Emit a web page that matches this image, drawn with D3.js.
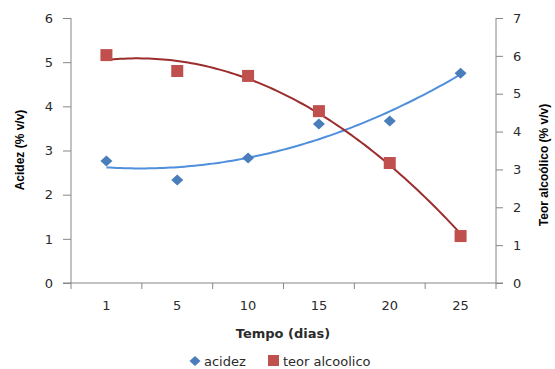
<!DOCTYPE html>
<html><head><meta charset="utf-8">
<script src="https://cdn.jsdelivr.net/npm/d3@7"></script>
<style>body{margin:0;background:#fff}svg{display:block}</style>
</head><body>
<script>
const categories = ["1","5","10","15","20","25"];
const acidez = [2.76, 2.33, 2.83, 3.60, 3.67, 4.75];
const teor = [6.02, 5.60, 5.47, 4.54, 3.17, 1.24];
const leftTicks = [0,1,2,3,4,5,6];
const rightTicks = [0,1,2,3,4,5,6,7];

const W = 555, H = 369;
const svg = d3.select("body").append("svg").attr("width", W).attr("height", H);
const x = d3.scaleBand().domain(categories).range([71, 496]).padding(0);
const yL = d3.scaleLinear().domain([0,6]).range([283,18]);
const yR = d3.scaleLinear().domain([0,7]).range([283,18]);
const axisColor = "#868686", textColor = "#2b2b2b";
const font = "DejaVu Sans";
const fs = 13;

// quadratic least-squares trendline (like Excel polynomial trendline)
function polyFit(ys){
  const n = ys.length, xs = ys.map((_,i)=>i+1);
  const m = d3.mean(xs);
  const t = xs.map(v=>v-m);
  const St2 = d3.sum(t,v=>v*v), St4 = d3.sum(t,v=>v**4);
  const Sy = d3.sum(ys), Sty = d3.sum(t.map((v,i)=>v*ys[i])), St2y = d3.sum(t.map((v,i)=>v*v*ys[i]));
  const b = Sty/St2;
  const c = (St2y - St2*Sy/n)/(St4 - St2*St2/n);
  const a = (Sy - St2*c)/n;
  return xx => a + b*(xx-m) + c*(xx-m)*(xx-m);
}
const xIdx = d3.scaleLinear().domain([1,6]).range([x(categories[0])+x.bandwidth()/2, x(categories[5])+x.bandwidth()/2]);

// axes
const gx = svg.append("g").attr("transform","translate(0,283)")
  .call(d3.axisBottom(x).tickSize(0).tickFormat(""));
gx.select(".domain").attr("stroke",axisColor).attr("d","M63,0H503");
const bounds = categories.map(c=>x(c)).concat([496]);
gx.selectAll("line.b").data(bounds).join("line").attr("class","b")
  .attr("x1",d=>d).attr("x2",d=>d).attr("y1",0).attr("y2",6).attr("stroke",axisColor);
svg.append("g").selectAll("text").data(categories).join("text")
  .attr("x",d=>x(d)+x.bandwidth()/2).attr("y",310).attr("text-anchor","middle")
  .attr("font-family",font).attr("font-size",fs).attr("fill",textColor).text(d=>d);

const gl = svg.append("g").attr("transform","translate(71,0)")
  .call(d3.axisLeft(yL).tickValues(leftTicks).tickSize(8).tickPadding(10).tickFormat(d3.format("d")));
gl.select(".domain").attr("stroke",axisColor).attr("d","M0,18V283");
gl.selectAll(".tick line").attr("stroke",axisColor);
gl.selectAll(".tick text").attr("font-family",font).attr("font-size",fs).attr("fill",textColor);

const gr = svg.append("g").attr("transform","translate(496,0)")
  .call(d3.axisRight(yR).tickValues(rightTicks).tickSize(7).tickPadding(10).tickFormat(d3.format("d")));
gr.select(".domain").attr("stroke",axisColor).attr("d","M0,18V283");
gr.selectAll(".tick line").attr("stroke",axisColor);
gr.selectAll(".tick text").attr("font-family",font).attr("font-size",fs).attr("fill",textColor);

// trendlines
const samples = d3.range(1, 6.001, 0.05);
const fA = polyFit(acidez), fT = polyFit(teor);
svg.append("path").attr("fill","none").attr("stroke","#4F8FDB").attr("stroke-width",2)
  .attr("d", d3.line().x(d=>xIdx(d)).y(d=>yL(fA(d)))(samples));
svg.append("path").attr("fill","none").attr("stroke","#9B2D2D").attr("stroke-width",2)
  .attr("d", d3.line().x(d=>xIdx(d)).y(d=>yR(fT(d)))(samples));

// markers
svg.append("g").selectAll("path").data(acidez).join("path")
  .attr("transform",(d,i)=>`translate(${x(categories[i])+x.bandwidth()/2},${yL(d)})`)
  .attr("d","M0,-5.5L6,0L0,5.5L-6,0Z").attr("fill","#4A7EBB");
svg.append("g").selectAll("rect").data(teor).join("rect")
  .attr("x",(d,i)=>x(categories[i])+x.bandwidth()/2-6).attr("y",d=>yR(d)-6)
  .attr("width",12).attr("height",12).attr("fill","#C0504D");

// titles
svg.append("text").attr("transform","translate(24,150) rotate(-90)").attr("text-anchor","middle")
  .attr("font-family","Liberation Sans").attr("font-weight","bold").attr("font-size",12).attr("fill","#000")
  .text("Acidez (% v/v)");
svg.append("text").attr("transform","translate(548,165) rotate(-90)").attr("text-anchor","middle")
  .attr("font-family","Liberation Sans").attr("font-weight","bold").attr("font-size",12).attr("fill","#000")
  .text("Teor alcoólico  (% v/v)");
svg.append("text").attr("x",283).attr("y",338).attr("text-anchor","middle")
  .attr("font-family",font).attr("font-weight","bold").attr("font-size",fs).attr("fill",textColor)
  .text("Tempo (dias)");

// legend
const lg = svg.append("g");
lg.append("path").attr("transform","translate(195,361)").attr("d","M0,-5L5.5,0L0,5L-5.5,0Z").attr("fill","#4A7EBB");
lg.append("text").attr("x",204).attr("y",366).attr("font-family",font).attr("font-size",fs).attr("fill",textColor).text("acidez");
lg.append("rect").attr("x",268).attr("y",355).attr("width",11).attr("height",11).attr("fill","#C0504D");
lg.append("text").attr("x",283).attr("y",366).attr("font-family",font).attr("font-size",fs).attr("fill",textColor).text("teor alcoolico");
</script>
</body></html>
